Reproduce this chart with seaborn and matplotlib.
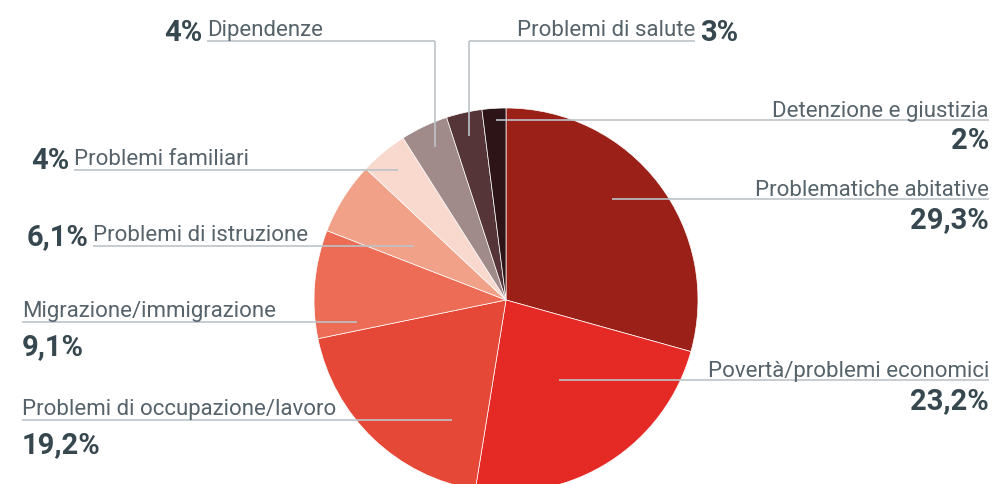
import matplotlib
matplotlib.use("Agg")
import matplotlib.pyplot as plt
import seaborn as sns

categories = ["Problematiche abitative", "Povertà/problemi economici",
              "Problemi di occupazione/lavoro", "Migrazione/immigrazione",
              "Problemi di istruzione", "Problemi familiari", "Dipendenze",
              "Problemi di salute", "Detenzione e giustizia"]
values = [29.3, 23.2, 19.2, 9.1, 6.1, 4, 4, 3, 2]
pct_labels = ["29,3%", "23,2%", "19,2%", "9,1%", "6,1%", "4%", "4%", "3%", "2%"]
colors = ["#9B2118", "#E52A26", "#E64838", "#EC6C55", "#F2A189",
          "#F9D8CE", "#A08A8A", "#553537", "#2D1517"]

sns.set_theme(style="white")
plt.rcParams['font.family'] = ['Roboto', 'DejaVu Sans']

W, H = 996, 485
LINE = "#BCC3C8"
GREY = "#56636B"
DARK = "#37474F"
FS_L = 16
FS_P = 21

fig = plt.figure(figsize=(W / 100, H / 100), dpi=100)
ax = fig.add_axes([0, 0, 1, 1])

ax.pie(values, colors=colors, startangle=90, counterclock=False,
       center=(506, H - 301), radius=192,
       wedgeprops=dict(edgecolor="white", linewidth=0.5))
ax.set_xlim(0, W)
ax.set_ylim(0, H)
ax.set_aspect("equal")
ax.axis("off")


def Y(y):
    return H - y


def hline(x0, x1, y):
    ax.plot([x0, x1], [Y(y), Y(y)], color=LINE, lw=1.2, zorder=5, solid_capstyle="butt")


def vline(x, y0, y1):
    ax.plot([x, x], [Y(y0), Y(y1)], color=LINE, lw=1.2, zorder=5, solid_capstyle="butt")


def lab(x, y, s, ha="left"):
    ax.text(x, Y(y), s, ha=ha, va="baseline", fontsize=FS_L, color=GREY,
            fontweight="normal", zorder=6)


def pct(x, y, s, ha="left"):
    ax.text(x, Y(y), s, ha=ha, va="baseline", fontsize=FS_P, color=DARK,
            fontweight="bold", zorder=6)


# right side: label above line, percentage below
right = {0: (200, 612), 1: (381, 559), 8: (121, 496)}
for i, (ly, x0) in right.items():
    hline(x0, 989, ly)
    lab(989, ly - 4, categories[i], ha="right")
    pct(989, ly + 28, pct_labels[i], ha="right")

# left side stacked
left = {2: (421, 452), 3: (323, 357)}
for i, (ly, x1) in left.items():
    hline(22, x1, ly)
    lab(22, ly - 6, categories[i])
    pct(22, ly + 32, pct_labels[i])

# left side inline
inline = {4: (247, 93, 414), 5: (171, 74, 398)}
for i, (ly, x0, x1) in inline.items():
    hline(x0, x1, ly)
    lab(x0, ly - 6, categories[i])
    pct(x0 - 5, ly - 2, pct_labels[i], ha="right")

# top labels with elbows
hline(207, 435, 42)
vline(435, 42, 148)
lab(207, 36, categories[6])
pct(202, 41, pct_labels[6], ha="right")

hline(469, 695, 42)
vline(469, 42, 137)
lab(695, 36, categories[7], ha="right")
pct(700, 41, pct_labels[7])

fig.savefig("out.png", dpi=100)
